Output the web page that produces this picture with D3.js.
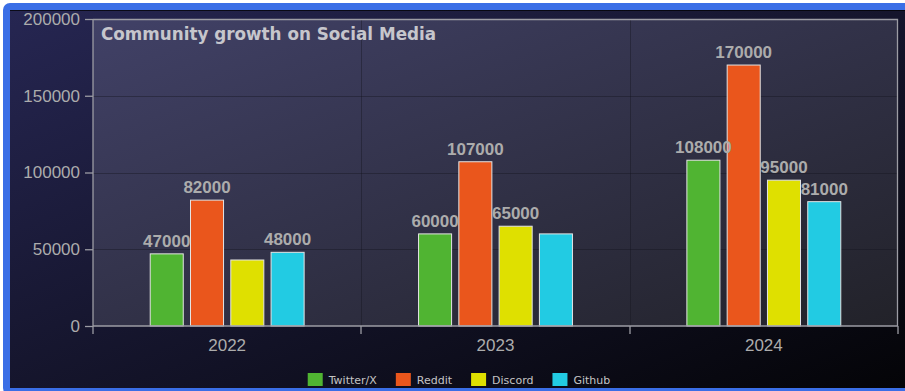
<!DOCTYPE html>
<html>
<head>
<meta charset="utf-8">
<script src="https://cdn.jsdelivr.net/npm/d3@7"></script>
<style>
  html, body { margin: 0; padding: 0; background: #fff; overflow: hidden; }
  .cadre {
    position: absolute; left: 3px; top: 3px; width: 920px; height: 378px;
    border: 7px solid #3a6ee6; border-radius: 7px; background: #15152c;
  }
  svg { position: absolute; left: 0; top: 0; }
</style>
</head>
<body>
<div class="cadre"></div>
<script>
// données
const years = ['2022', '2023', '2024'];
const series = ['Twitter/X', 'Reddit', 'Discord', 'Github'];
const twitter = [47000, 60000, 108000];
const reddit = [82000, 107000, 170000];
const discord = [43000, 65000, 95000];
const github = [48000, 60000, 81000];
const yTicks = [0, 50000, 100000, 150000, 200000];
const colors = ['#50b432', '#ea561c', '#dfe000', '#22cbe3'];
const title = 'Community growth on Social Media';

const values = [twitter, reddit, discord, github];

// canevas
const W = 905, H = 391;
const svg = d3.select('body').append('svg')
  .attr('width', W)
  .attr('height', H);

const defs = svg.append('defs');
const fond = defs.append('linearGradient').attr('id', 'fond')
  .attr('x1', 0).attr('y1', 0).attr('x2', 1).attr('y2', 1);
fond.append('stop').attr('offset', '0%').attr('stop-color', '#262652');
fond.append('stop').attr('offset', '100%').attr('stop-color', '#040407');
const fondPlot = defs.append('linearGradient').attr('id', 'fondPlot')
  .attr('x1', 0).attr('y1', 0).attr('x2', 1).attr('y2', 1);
fondPlot.append('stop').attr('offset', '0%').attr('stop-color', '#414167');
fondPlot.append('stop').attr('offset', '100%').attr('stop-color', '#222229');

// fond du graphique
svg.append('rect')
  .attr('x', 10).attr('y', 10).attr('width', W - 10).attr('height', 378)
  .attr('fill', 'url(#fond)');
svg.append('line')
  .attr('x1', 10).attr('x2', W).attr('y1', 10.5).attr('y2', 10.5)
  .attr('stroke', '#000').attr('stroke-opacity', 0.7);

const plot = { left: 93, right: 898, top: 19, bottom: 326 };

// échelles
const x0 = d3.scaleBand().domain(years).range([plot.left, plot.right]);
const x1 = d3.scaleBand().domain(series)
  .range([0, x0.bandwidth()])
  .paddingInner(0.18)
  .paddingOuter(1.42);
const y = d3.scaleLinear().domain([0, 200000]).range([plot.bottom, plot.top]);

// zone de tracé
svg.append('rect')
  .attr('x', plot.left).attr('y', plot.top)
  .attr('width', plot.right - plot.left).attr('height', plot.bottom - plot.top)
  .attr('fill', 'url(#fondPlot)');

// grille
svg.append('g').selectAll('line')
  .data(yTicks.slice(1, -1))
  .join('line')
  .attr('x1', plot.left).attr('x2', plot.right)
  .attr('y1', d => Math.round(y(d)) + 0.5).attr('y2', d => Math.round(y(d)) + 0.5)
  .attr('stroke', '#15151f').attr('stroke-opacity', 0.4);
svg.append('g').selectAll('line')
  .data(years.slice(1))
  .join('line')
  .attr('x1', d => Math.round(x0(d)) + 0.5).attr('x2', d => Math.round(x0(d)) + 0.5)
  .attr('y1', plot.top).attr('y2', plot.bottom)
  .attr('stroke', '#15151f').attr('stroke-opacity', 0.4);

// bordure haut et droite
svg.append('path')
  .attr('d', `M${plot.left},${plot.top + 0.5}H${plot.right - 0.5}V${plot.bottom}`)
  .attr('fill', 'none').attr('stroke', '#9c9ca4').attr('stroke-width', 1.3);

// barres
const groupes = svg.append('g').selectAll('g')
  .data(years)
  .join('g')
  .attr('transform', d => `translate(${x0(d)},0)`);

groupes.selectAll('rect')
  .data((d, i) => series.map((s, j) => ({ s, v: values[j][i], c: colors[j] })))
  .join('rect')
  .attr('x', d => x1(d.s))
  .attr('y', d => y(d.v))
  .attr('width', x1.bandwidth())
  .attr('height', d => plot.bottom - y(d.v))
  .attr('fill', d => d.c)
  .attr('stroke', '#e4e4e4')
  .attr('stroke-width', 1);

// étiquettes de valeurs (cachées si chevauchement)
const etiquettes = [];
years.forEach((yr, i) => {
  series.forEach((s, j) => {
    etiquettes.push({ yr, s, v: values[j][i], cx: x0(yr) + x1(s) + x1.bandwidth() / 2 });
  });
});
const labels = svg.append('g').selectAll('text')
  .data(etiquettes)
  .join('text')
  .attr('x', d => d.cx)
  .attr('y', d => y(d.v) - 7)
  .attr('text-anchor', 'middle')
  .attr('font-family', '"Liberation Sans", Arial, sans-serif')
  .attr('font-weight', 'bold')
  .attr('font-size', 17)
  .attr('fill', '#acacac')
  .text(d => d.v);

labels.each(function(d) {
  const w = this.getComputedTextLength();
  d.box = { x0: d.cx - w / 2, x1: d.cx + w / 2, y0: y(d.v) - 7 - 12, y1: y(d.v) - 7 };
});
const gardees = [];
etiquettes.slice().sort((a, b) => b.v - a.v).forEach(d => {
  const chevauche = gardees.some(g => g.yr === d.yr &&
    d.box.x0 < g.box.x1 && d.box.x1 > g.box.x0 &&
    d.box.y0 < g.box.y1 && d.box.y1 > g.box.y0);
  d.cache = chevauche;
  if (!chevauche) gardees.push(d);
});
labels.attr('display', d => d.cache ? 'none' : null);

// axes
const axeY = svg.append('g')
  .attr('transform', `translate(${plot.left},0)`)
  .call(d3.axisLeft(y).tickValues(yTicks).tickSize(8).tickPadding(5).tickFormat(d3.format('d')));
const axeX = svg.append('g')
  .attr('transform', `translate(0,${plot.bottom})`)
  .call(d3.axisBottom(x0).tickSize(0).tickPadding(13));

[axeY, axeX].forEach(a => {
  a.select('.domain').attr('stroke', '#9c9ca4').attr('stroke-width', 1.3);
  a.selectAll('.tick line').attr('stroke', '#9c9ca4').attr('stroke-width', 1.3);
  a.selectAll('text')
    .attr('fill', '#acacac')
    .attr('font-family', '"Liberation Sans", Arial, sans-serif')
    .attr('font-size', 17);
});
axeY.select('.domain').attr('d', `M0,${plot.top}V${plot.bottom}`);
axeX.select('.domain').attr('d', `M${plot.left},0H${plot.right}`);

// graduations aux bords des catégories
svg.append('g').selectAll('line')
  .data(years.map(d => x0(d)).concat([plot.right]))
  .join('line')
  .attr('x1', d => Math.round(d)).attr('x2', d => Math.round(d))
  .attr('y1', plot.bottom).attr('y2', plot.bottom + 8)
  .attr('stroke', '#9c9ca4').attr('stroke-width', 1.3);

// titre
svg.append('text')
  .attr('x', 101).attr('y', 40)
  .attr('font-family', '"DejaVu Sans", sans-serif')
  .attr('font-weight', 'bold')
  .attr('font-size', 16.8)
  .attr('fill', '#c6c6cc')
  .text(title);

// légende
const legende = svg.append('g');
let lx = 0;
series.forEach((s, j) => {
  const item = legende.append('g').attr('transform', `translate(${lx},0)`);
  item.append('rect')
    .attr('x', 0).attr('y', 373).attr('width', 15).attr('height', 13)
    .attr('fill', colors[j]);
  const t = item.append('text')
    .attr('x', 21).attr('y', 384)
    .attr('font-family', '"DejaVu Sans", sans-serif')
    .attr('font-size', 11)
    .attr('fill', '#c4c4c4')
    .text(s);
  lx += 21 + t.node().getComputedTextLength() + 19;
});
const largeur = lx - 19;
legende.attr('transform', `translate(${459 - largeur / 2},0)`);
</script>
</body>
</html>
